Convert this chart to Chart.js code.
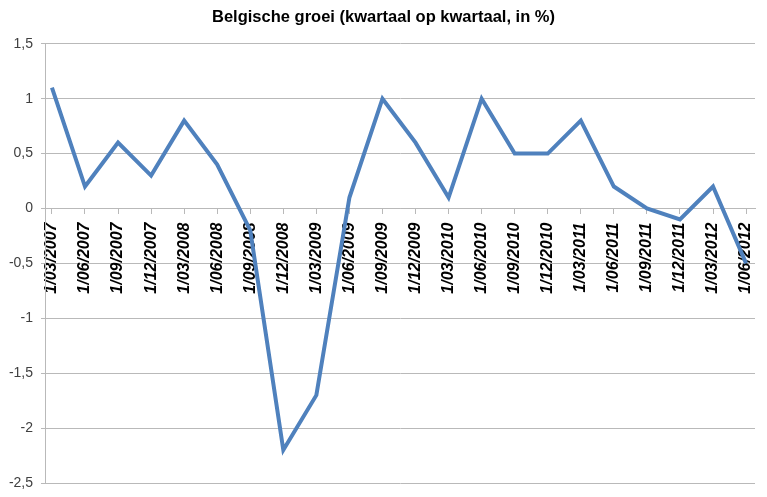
<!DOCTYPE html>
<html>
<head>
<meta charset="utf-8">
<script src="https://cdn.jsdelivr.net/npm/chart.js@4"></script>
<style>
  body { margin: 0; background: #fff; }
  #wrap { width: 767px; height: 497px; }
</style>
</head>
<body>
<div id="wrap"><canvas id="lineChart"></canvas></div>
<script>
// quarters (x axis labels)
const quarters = ['1/03/2007', '1/06/2007', '1/09/2007', '1/12/2007', '1/03/2008', '1/06/2008',
  '1/09/2008', '1/12/2008', '1/03/2009', '1/06/2009', '1/09/2009', '1/12/2009',
  '1/03/2010', '1/06/2010', '1/09/2010', '1/12/2010', '1/03/2011', '1/06/2011',
  '1/09/2011', '1/12/2011', '1/03/2012', '1/06/2012'];
// growth q-o-q in %
const growth = [1.1, 0.2, 0.6, 0.3, 0.8, 0.4, -0.2, -2.2, -1.7, 0.1, 1.0, 0.6,
  0.1, 1.0, 0.5, 0.5, 0.8, 0.2, 0.0, -0.1, 0.2, -0.5];
const yTicks = [-2.5, -2, -1.5, -1, -0.5, 0, 0.5, 1, 1.5];

const ctx = document.getElementById('lineChart');
const gridGray = '#b9b9b9';

new Chart(ctx, {
  type: 'line',
  data: {
    datasets: [{
      label: 'Belgische groei',
      data: growth.map((v, i) => ({ x: i, y: v })),
      borderColor: '#4f81bd',
      backgroundColor: '#4f81bd',
      borderWidth: 4,
      pointRadius: 0,
      tension: 0
    }]
  },
  options: {
    responsive: true,
    maintainAspectRatio: false,
    animation: false,
    layout: { padding: { left: 6, right: 6, bottom: 14, top: 0 } },
    plugins: {
      legend: { display: false },
      tooltip: { enabled: false },
      title: {
        display: true,
        text: 'Belgische groei (kwartaal op kwartaal, in %)',
        color: '#000',
        font: { family: 'Liberation Sans, Arial', size: 16.5, weight: 'bold' },
        padding: { top: 8, bottom: 16 }
      }
    },
    scales: {
      x: {
        type: 'linear',
        position: { y: 0 },
        min: -0.21,
        max: 21.27,
        afterFit: (axis) => {
          axis.paddingLeft = 0; axis.paddingRight = 0;
          axis.paddingTop = 0; axis.paddingBottom = 0;
        },
        grid: { drawOnChartArea: false, drawTicks: true, tickLength: 5, color: gridGray },
        border: { display: true, color: gridGray },
        ticks: {
          stepSize: 1,
          includeBounds: false,
          autoSkip: false,
          minRotation: 90,
          maxRotation: 90,
          padding: 9,
          color: '#000',
          font: { family: 'Liberation Sans, Arial', size: 16, weight: 'bold', style: 'italic' },
          callback: (v) => quarters[v]
        }
      },
      y: {
        min: -2.5,
        max: 1.5,
        afterBuildTicks: (axis) => { axis.ticks = yTicks.map(v => ({ value: v })); },
        afterFit: (axis) => { axis.width = 39; axis.paddingTop = 0; axis.paddingBottom = 0; },
        grid: { color: gridGray, tickLength: 4 },
        border: { display: true, color: gridGray },
        ticks: {
          padding: 8,
          color: '#404040',
          font: { family: 'Liberation Sans, Arial', size: 14 },
          callback: (v) => String(v).replace('.', ',')
        }
      },
      // empty right margin axis
      y2: {
        position: 'right',
        min: -2.5,
        max: 1.5,
        afterFit: (axis) => { axis.width = 6; axis.paddingTop = 0; axis.paddingBottom = 0; },
        grid: { drawOnChartArea: false, drawTicks: false },
        border: { display: false },
        ticks: { display: false }
      }
    }
  }
});
</script>
</body>
</html>
